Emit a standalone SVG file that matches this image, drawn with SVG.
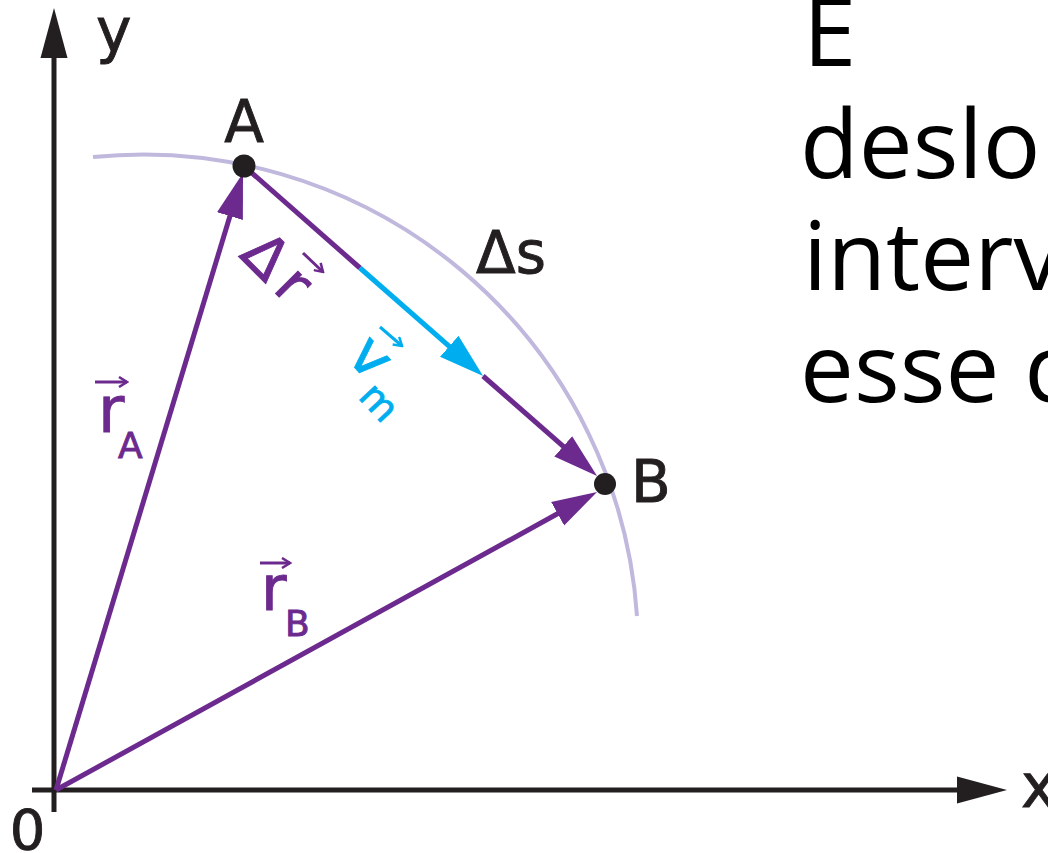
<svg xmlns="http://www.w3.org/2000/svg" width="1048" height="853" viewBox="0 0 1048 853">
<style>
.lbl{font-family:"DejaVu Sans",sans-serif;stroke-width:0.9}
.blk{fill:#231f20;stroke:#231f20}
.pur{fill:#6c2a8e;stroke:#6c2a8e}
.blu{fill:#00aeef;stroke:#00aeef}
.ax{stroke:#231f20;stroke-width:5;fill:none}
.pv{stroke:#6c2a8e;stroke-width:5;fill:none}
.bv{stroke:#00aeef;stroke-width:5;fill:none}
.small{stroke-width:3;fill:none}
.big{font-family:"Open Sans",Lato,sans-serif;font-size:96px;fill:#000}
</style>
<defs>
<marker id="mAx" markerUnits="userSpaceOnUse" viewBox="0 -14 50 28" refX="5" refY="0" markerWidth="50" markerHeight="28" orient="auto"><path d="M0,-13.5 L50,0 L0,13.5 z" fill="#231f20"/></marker>
<marker id="mPur" markerUnits="userSpaceOnUse" viewBox="0 -14 45 28" refX="5" refY="0" markerWidth="45" markerHeight="28" orient="auto"><path d="M0,-13.5 L45,0 L0,13.5 z" fill="#6c2a8e"/></marker>
<marker id="mBlu" markerUnits="userSpaceOnUse" viewBox="0 -14 45 28" refX="5" refY="0" markerWidth="45" markerHeight="28" orient="auto"><path d="M0,-14 L45,0 L0,14 z" fill="#00aeef"/></marker>
<marker id="mSmP" markerUnits="userSpaceOnUse" viewBox="-10 -6 12 12" refX="0" refY="0" markerWidth="12" markerHeight="12" orient="auto"><path d="M-8,-5 L0,0 L-8,5" stroke="#6c2a8e" stroke-width="2.5" fill="none"/></marker>
<marker id="mSmB" markerUnits="userSpaceOnUse" viewBox="-10 -6 12 12" refX="0" refY="0" markerWidth="12" markerHeight="12" orient="auto"><path d="M-8,-5 L0,0 L-8,5" stroke="#00aeef" stroke-width="2.5" fill="none"/></marker>
</defs>

<g id="axes">
<line class="ax" x1="54" y1="812" x2="54" y2="53" marker-end="url(#mAx)"/>
<line class="ax" x1="32" y1="790" x2="962" y2="790" marker-end="url(#mAx)"/>
<text class="lbl blk" x="96" y="51" font-size="60">y</text>
<text class="lbl blk" x="1021" y="807" font-size="60">x</text>
<text class="lbl blk" x="27.5" y="849" font-size="56" text-anchor="middle">0</text>
</g>

<g id="trajectory">
<path d="M93,157 A495,495 0 0 1 637,616" stroke="#c0b8dd" stroke-width="4" fill="none"/>
<text class="lbl blk" x="476" y="273" font-size="58">Δs</text>
</g>

<g id="connectors">
<line class="pv" x1="56" y1="790" x2="231.4" y2="211.3" marker-end="url(#mPur)"/>
<line class="pv" x1="56" y1="790" x2="562" y2="511.3" marker-end="url(#mPur)"/>
<line class="pv" x1="244" y1="166" x2="360" y2="268"/>
<line class="bv" x1="360" y1="268" x2="453" y2="349.6" marker-end="url(#mBlu)"/>
<line class="pv" x1="483" y1="376" x2="567" y2="449.6" marker-end="url(#mPur)"/>
</g>

<g id="pointA">
<circle cx="244" cy="166" r="11.5" fill="#231f20"/>
<text class="lbl blk" x="244" y="142" font-size="58" text-anchor="middle">A</text>
</g>

<g id="pointB">
<circle cx="605" cy="484" r="11" fill="#231f20"/>
<text class="lbl blk" x="631" y="502" font-size="58">B</text>
</g>

<g id="label-rA">
<line class="pv small" x1="95" y1="382" x2="127" y2="382" marker-end="url(#mSmP)"/>
<text class="lbl pur" x="98" y="432" font-size="64">r</text>
<text class="lbl pur" x="118" y="458" font-size="36">A</text>
</g>

<g id="label-rB">
<line class="pv small" x1="260" y1="563" x2="290" y2="563" marker-end="url(#mSmP)"/>
<text class="lbl pur" x="261" y="610" font-size="62">r</text>
<text class="lbl pur" x="285" y="636" font-size="36">B</text>
</g>

<g id="label-dr">
<text class="lbl pur" font-size="58" transform="translate(238,256) rotate(45)">Δ<tspan dx="8">r</tspan></text>
<line class="pv small" x1="303" y1="253" x2="323" y2="272" marker-end="url(#mSmP)"/>
</g>

<g id="label-vm">
<text class="lbl blu" font-size="58" text-anchor="middle" transform="translate(357,370) rotate(47)">v</text>
<text class="lbl blu" font-size="38" text-anchor="middle" transform="translate(370,411) rotate(47)">m</text>
<line class="bv small" x1="380" y1="327" x2="402" y2="346" marker-end="url(#mSmB)"/>
</g>

<g id="side-text">
<text class="big" x="803" y="66">E</text>
<text class="big" x="800" y="178">deslo</text>
<text class="big" x="803" y="290">interv</text>
<text class="big" x="800" y="402">esse c</text>
</g>
</svg>
